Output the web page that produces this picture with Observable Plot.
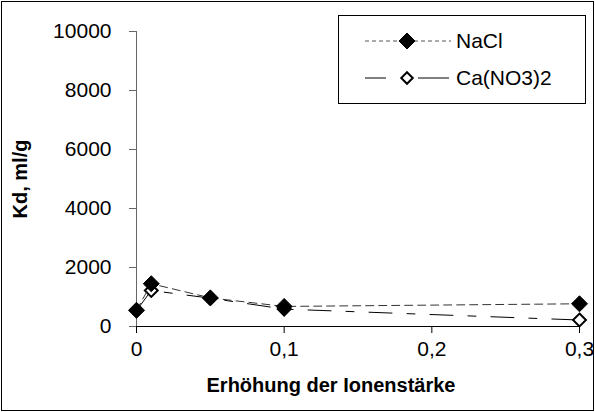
<!DOCTYPE html>
<html><head><meta charset="utf-8">
<script src="https://cdn.jsdelivr.net/npm/d3@7"></script>
<script src="https://cdn.jsdelivr.net/npm/@observablehq/plot@0.6"></script>
<style>body{margin:0;background:#fff;} #chart{position:relative;width:595px;height:412px;}</style>
</head><body><div id="chart"></div>
<script>
const ionicStrength = [0, 0.01, 0.05, 0.1, 0.3];
const kdNaCl = [550, 1450, 970, 680, 770];
const kdCaNO3 = [540, 1220, 960, 590, 220];
const seriesNames = ["NaCl", "Ca(NO3)2"];
const xTicks = [0, 0.1, 0.2, 0.3];
const xTickLabels = ["0", "0,1", "0,2", "0,3"];
const yTicks = [0, 2000, 4000, 6000, 8000, 10000];
const xTitle = "Erhöhung der Ionenstärke";
const yTitle = "Kd, ml/g";

const na = ionicStrength.map((x, i) => ({x, kd: kdNaCl[i]}));
const ca = ionicStrength.map((x, i) => ({x, kd: kdCaNO3[i]}));
const font = "'Liberation Sans', Arial, sans-serif";

const svg = Plot.plot({
  width: 595, height: 412,
  marginLeft: 136, marginRight: 16, marginTop: 31, marginBottom: 86,
  x: {domain: [0, 0.3]},
  y: {domain: [0, 10000]},
  style: {fontFamily: font, fontSize: "21px", color: "#000", background: "#fff", overflow: "visible"},
  marks: [
    Plot.axisX({ticks: xTicks, tickFormat: d => xTickLabels[xTicks.indexOf(d)], tickSize: 7, tickPadding: 8, label: null, fontSize: 21, stroke: "#000"}),
    Plot.axisY({ticks: yTicks, tickFormat: d => String(d), tickSize: 7, tickPadding: 18, label: null, fontSize: 21, stroke: "#666"}),
    Plot.ruleX([0], {stroke: "#666"}),
    Plot.ruleY([0], {stroke: "#000"}),
    Plot.line(ca, {x: "x", y: "kd", stroke: "#000", strokeWidth: 1, strokeDasharray: "23,15,8,15"}),
    Plot.dot(ca, {x: "x", y: "kd", symbol: "diamond2", r: 5.8, fill: "#fff", stroke: "#000", strokeWidth: 2}),
    Plot.line(na, {x: "x", y: "kd", stroke: "#333", strokeWidth: 1, strokeDasharray: "8,5"}),
    Plot.dot(na, {x: "x", y: "kd", symbol: "diamond2", r: 7.2, fill: "#000", stroke: "#000", strokeWidth: 1}),
    Plot.text([xTitle], {text: d => d, frameAnchor: "bottom", dy: 59, dx: -27, lineAnchor: "middle", textAnchor: "middle", fontWeight: "bold", fontSize: 20}),
    Plot.text([yTitle], {text: d => d, frameAnchor: "left", dx: -116, rotate: -90, lineAnchor: "middle", textAnchor: "middle", fontWeight: "bold", fontSize: 20})
  ]
});
document.getElementById("chart").appendChild(svg);

// outer border and legend
const s = d3.select(svg);
s.append("rect").attr("x", 1.5).attr("y", 1.5).attr("width", 592).attr("height", 409)
  .attr("fill", "none").attr("stroke", "#000");
const lg = s.append("g").attr("text-anchor", "start");
lg.append("rect").attr("x", 338.5).attr("y", 15.5).attr("width", 247).attr("height", 88)
  .attr("fill", "#fff").attr("stroke", "#000");
const legendItems = [
  {name: seriesNames[0], y: 41, dash: "4,3", stroke: "#555", fill: "#000", r: 7.2, sw: 1},
  {name: seriesNames[1], y: 78, dash: null, stroke: "#000", fill: "#fff", r: 5.2, sw: 2}
];
for (const it of legendItems) {
  if (it.dash) {
    lg.append("line").attr("x1", 365).attr("x2", 451).attr("y1", it.y).attr("y2", it.y)
      .attr("stroke", it.stroke).attr("stroke-dasharray", it.dash);
  } else {
    for (const [a, b] of [[365, 386], [418, 449]]) {
      lg.append("line").attr("x1", a).attr("x2", b).attr("y1", it.y).attr("y2", it.y).attr("stroke", it.stroke);
    }
  }
  lg.append("path").attr("transform", `translate(407,${it.y})`)
    .attr("d", d3.symbol(d3.symbolDiamond2, Math.PI * it.r * it.r)())
    .attr("fill", it.fill).attr("stroke", "#000").attr("stroke-width", it.sw);
  lg.append("text").attr("x", 456).attr("y", it.y).attr("dy", "0.35em")
    .attr("font-family", font).attr("font-size", 21).text(it.name);
}
</script>
</body></html>
